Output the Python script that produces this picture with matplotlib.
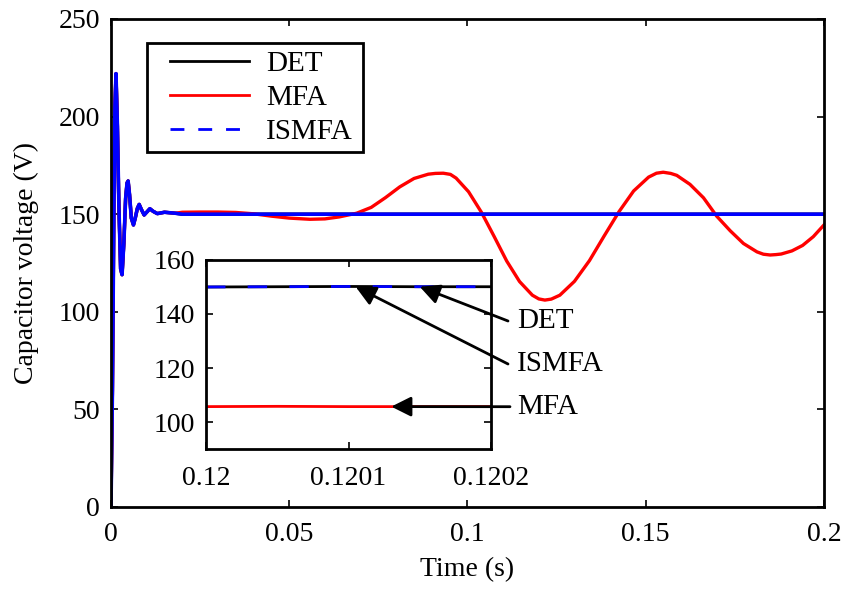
import matplotlib
matplotlib.use('Agg')
import matplotlib.pyplot as plt
from matplotlib.lines import Line2D
from matplotlib.patches import Rectangle

plt.rcParams['font.family'] = ['Liberation Serif', 'DejaVu Serif']

# start-up transient (same for all three controllers)
t_start = [0, 0.0004, 0.0008, 0.0011, 0.0014, 0.0018, 0.0022, 0.0027, 0.0031, 0.0036,
           0.0041, 0.0045, 0.0048, 0.0052, 0.0057, 0.0063, 0.0068, 0.0074, 0.0079, 0.0085,
           0.0093, 0.0100, 0.0109, 0.0118, 0.0130, 0.0150, 0.0180]
v_start = [0, 60, 150, 205, 222, 195, 155, 122, 119, 135,
           158, 166, 167, 160, 148, 144.5, 148, 153, 155, 152.5,
           149.6, 151, 152.8, 151.5, 150.3, 151, 150.5]

# after the transient
t_det_tail = [0.02, 0.2]
v_det_tail = [150, 150]

t_mfa_tail = [0.02, 0.025, 0.03, 0.035, 0.04, 0.045, 0.05, 0.0558, 0.06, 0.064,
              0.0689, 0.073, 0.077, 0.081, 0.085, 0.089, 0.091, 0.0932, 0.0952, 0.0968,
              0.1003, 0.1039, 0.1075, 0.111, 0.1146, 0.1182, 0.12, 0.1217, 0.1235, 0.1259,
              0.13, 0.1342, 0.1383, 0.1425, 0.1466, 0.1508, 0.153, 0.1549, 0.157, 0.1587,
              0.1624, 0.1662, 0.1699, 0.1737, 0.1774, 0.1812, 0.183, 0.1849, 0.1865, 0.188,
              0.191, 0.194, 0.197, 0.2]
v_mfa_tail = [151.0, 151.1, 151.1, 150.9, 150.2, 149, 148, 147.4, 147.6, 148.6,
              150.5, 153.5, 158.5, 164, 168.3, 170.5, 170.9, 171, 170.4, 168.5,
              161.5, 151, 138.5, 126, 115.5, 108.5, 106.6, 106, 106.5, 108.5,
              115.6, 126.2, 138.75, 151.3, 161.9, 169, 171, 171.5, 170.9, 169.9,
              165.3, 158.4, 149, 141.5, 135, 130.7, 129.5, 129.1, 129.3, 129.6,
              131.2, 134, 138.5, 144.5]

# zoomed window
t_zoom = [0.12, 0.12005, 0.1201, 0.12015, 0.1202]
v_det_zoom = [150.0, 150.1, 150.2, 150.1, 150.1]
v_ismfa_zoom = [150.0, 150.1, 150.2, 150.1, 150.1]
v_mfa_zoom = [105.7, 105.8, 105.7, 105.7, 105.7]

x_ticks = [0, 0.05, 0.1, 0.15, 0.2]
x_ticklabels = ['0', '0.05', '0.1', '0.15', '0.2']
y_ticks = [0, 50, 100, 150, 200, 250]
zoom_xticks = [0.12, 0.1201, 0.1202]
zoom_xticklabels = ['0.12', '0.1201', '0.1202']
zoom_yticks = [100, 120, 140, 160]

FS = 20
FS_BIG = 21

fig = plt.figure(figsize=(8.45, 5.9), dpi=100)
ax = fig.add_axes([111/845, 1 - 507/590, 713/845, 488/590])

t_det = t_start + t_det_tail
v_det = v_start + v_det_tail
t_mfa = t_start + t_mfa_tail
v_mfa = v_start + v_mfa_tail

ax.plot(t_det, v_det, color='k', lw=2.4)
ax.plot(t_mfa, v_mfa, color='r', lw=2.4)
ax.plot(t_det, v_det, color='b', lw=2.6)

ax.set_xlim(0, 0.2)
ax.set_ylim(0, 250)
ax.set_xticks(x_ticks)
ax.set_xticklabels(x_ticklabels)
ax.set_yticks(y_ticks)
ax.tick_params(direction='in', top=True, right=True, length=5, width=1.2,
               labelsize=FS)
ax.tick_params(axis='x', pad=11)
ax.tick_params(axis='y', pad=8)
for s in ax.spines.values():
    s.set_linewidth(2)
ax.set_xlabel('Time (s)', fontsize=FS, labelpad=7)
ax.set_ylabel('Capacitor voltage (V)', fontsize=FS, labelpad=14)

# legend box drawn separately so the padding matches
ax.add_patch(Rectangle((147/845, 1 - 152/590), 216/845, 109/590,
                       transform=fig.transFigure, facecolor='white',
                       edgecolor='k', lw=2, zorder=4, clip_on=False))
handles = [Line2D([], [], color='k', lw=2),
           Line2D([], [], color='r', lw=2),
           Line2D([], [], color='b', lw=2, dashes=(5, 5))]
leg = ax.legend(handles, ['DET', 'MFA', 'ISMFA'], loc='upper left',
                bbox_to_anchor=(170/845, 1 - 51/590), bbox_transform=fig.transFigure,
                borderaxespad=0, borderpad=0, fontsize=FS_BIG, frameon=False,
                handlelength=2.7, handletextpad=0.6, labelspacing=0.25)
leg.set_zorder(5)

# inset
axi = fig.add_axes([206/845, 1 - 449/590, 285/845, 189/590])
axi.plot(t_zoom, v_det_zoom, color='k', lw=2)
axi.plot(t_zoom, v_mfa_zoom, color='r', lw=2)
axi.plot(t_zoom, v_ismfa_zoom, color='b', lw=2, dashes=(7, 8))
axi.set_xlim(0.12, 0.1202)
axi.set_ylim(90, 160)
axi.set_xticks(zoom_xticks)
axi.set_xticklabels(zoom_xticklabels)
axi.set_yticks(zoom_yticks)
axi.tick_params(direction='in', top=True, right=True, length=5, width=1.2,
                labelsize=FS)
axi.tick_params(axis='x', pad=12)
axi.tick_params(axis='y', pad=8)
for s in axi.spines.values():
    s.set_linewidth(2)

arrow = dict(arrowstyle='-|>,head_length=0.6,head_width=0.3', color='k',
             lw=2, mutation_scale=20, shrinkA=0, shrinkB=0)
axi.annotate('', xy=(0.12015, 150.1), xycoords='data',
             xytext=(508, 590 - 321), textcoords='figure pixels',
             arrowprops=arrow, annotation_clip=False)
axi.annotate('', xy=(0.120105, 150.1), xycoords='data',
             xytext=(508, 590 - 364), textcoords='figure pixels',
             arrowprops=arrow, annotation_clip=False)
axi.annotate('', xy=(0.12013, 105.7), xycoords='data',
             xytext=(510, 590 - 406.7), textcoords='figure pixels',
             arrowprops=arrow, annotation_clip=False)
fig.text(517/845, 1 - 321/590, 'DET', fontsize=FS_BIG, ha='left', va='center')
fig.text(517/845, 1 - 364/590, 'ISMFA', fontsize=FS_BIG, ha='left', va='center')
fig.text(517/845, 1 - 406.7/590, 'MFA', fontsize=FS_BIG, ha='left', va='center')

fig.savefig('out.png', dpi=100)
